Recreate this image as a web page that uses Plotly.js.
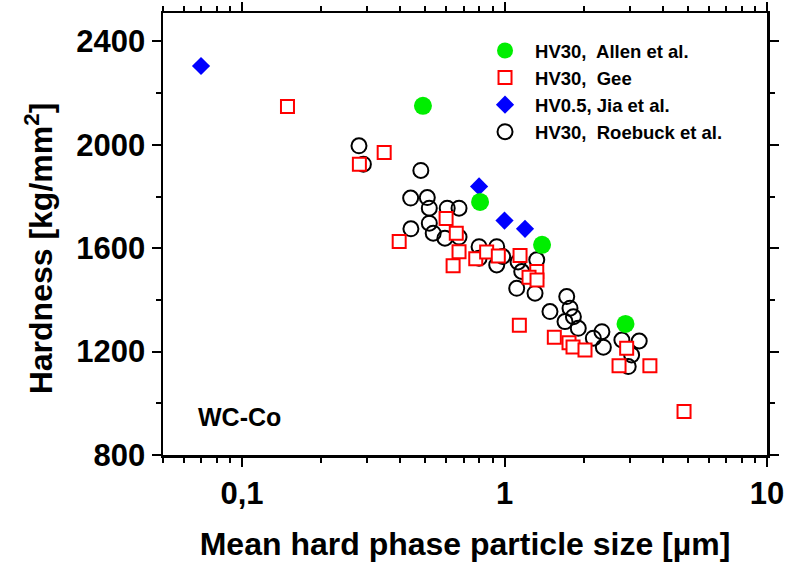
<!DOCTYPE html>
<html>
<head>
<meta charset="utf-8">
<script src="https://cdn.plot.ly/plotly-3.0.1.min.js"></script>
<style>html,body{margin:0;padding:0;background:#fff}#chart{width:788px;height:564px}</style>
</head>
<body>
<div id="chart"></div>
<script>
// Allen et al. (HV30)
const allenX = [0.489, 0.807, 1.39, 2.89];
const allenY = [2151, 1779, 1613, 1307];
// Gee (HV30)
const geeX = [0.149, 0.280, 0.348, 0.397, 0.599, 0.655, 0.671, 0.637, 0.777, 0.855, 0.947, 1.146, 1.327, 1.24, 1.33, 1.139, 1.548, 1.761, 1.824, 2.026, 2.731, 2.92, 3.58, 4.83];
const geeY = [2148, 1925, 1970, 1626, 1715, 1658, 1586, 1532, 1559, 1585, 1570, 1572, 1510, 1488, 1477, 1302, 1256, 1234, 1218, 1206, 1145, 1213, 1145, 968];
// Jia et al. (HV0.5)
const jiaX = [0.0698, 0.80, 1.0, 1.197];
const jiaY = [2305, 1839, 1707, 1675];
// Roebuck et al. (HV30)
const roeX = [0.279, 0.290, 0.480, 0.439, 0.508, 0.517, 0.605, 0.671, 0.517, 0.440, 0.535, 0.593, 0.671, 0.80, 0.934, 0.984, 0.80, 0.934, 1.327, 1.163, 1.113, 1.307, 1.726, 1.776, 1.49, 1.83, 1.70, 1.91, 2.35, 2.18, 2.38, 2.80, 3.26, 3.05, 2.96, 1.126];
const roeY = [1996, 1925, 1901, 1794, 1796, 1755, 1755, 1755, 1697, 1675, 1658, 1639, 1643, 1606, 1606, 1568, 1561, 1535, 1555, 1510, 1445, 1426, 1413, 1368, 1355, 1335, 1316, 1290, 1277, 1252, 1217, 1245, 1241, 1187, 1142, 1547];

const names = ["HV30,\u00a0 Allen et al.", "HV30,\u00a0 Gee", "HV0.5, Jia et al.", "HV30,\u00a0 Roebuck et al."];
const xTickVals = [0.1, 1, 10];
const xTickText = ["0,1", "1", "10"];
const xMinorVals = [0.05,0.06,0.07,0.08,0.09,0.2,0.3,0.4,0.5,0.6,0.7,0.8,0.9,2,3,4,5,6,7,8,9];
const yTickVals = [800, 1200, 1600, 2000, 2400];
const yMinorVals = [1000, 1400, 1800, 2200];
const xTitle = "Mean hard phase particle size [µm]";
const yTitle = "Hardness [kg/mm<sup>2</sup>]";

const FONT = "Liberation Sans, Arial, sans-serif";

const traces = [
  {x: roeX, y: roeY, name: names[3], type: "scatter", mode: "markers", legendrank: 4,
   marker: {symbol: "circle-open", size: 15, color: "#000", line: {color: "#000", width: 2}}},
  {x: geeX, y: geeY, name: names[1], type: "scatter", mode: "markers", legendrank: 2,
   marker: {symbol: "square", size: 13, color: "#fff", line: {color: "#ff0000", width: 2}}},
  {x: jiaX, y: jiaY, name: names[2], type: "scatter", mode: "markers", legendrank: 3,
   marker: {symbol: "diamond", size: 14, color: "#0000ff", line: {width: 0}}},
  {x: allenX, y: allenY, name: names[0], type: "scatter", mode: "markers", legendrank: 1,
   marker: {symbol: "circle", size: 18, color: "#00ee00", line: {width: 0}}}
];

const layout = {
  width: 788, height: 564,
  margin: {l: 163, r: 21, t: 13, b: 109, pad: 0},
  paper_bgcolor: "#fff", plot_bgcolor: "#fff",
  font: {family: FONT, color: "#000", weight: "bold"},
  showlegend: true,
  legend: {x: 0.5166, y: 0.957, xanchor: "left", yanchor: "top", bgcolor: "rgba(0,0,0,0)",
           font: {family: FONT, size: 18.5, color: "#000", weight: "bold"}, itemwidth: 50, tracegroupgap: 0},
  xaxis: {
    type: "log", range: [Math.log10(0.05), 1],
    tickmode: "array", tickvals: xTickVals, ticktext: xTickText,
    ticks: "outside", ticklen: 9, tickwidth: 2, tickcolor: "#000",
    minor: {tickmode: "array", tickvals: xMinorVals, ticks: "outside", ticklen: 5, tickwidth: 2, tickcolor: "#000", showgrid: false},
    showline: true, linewidth: 2.5, linecolor: "#000", mirror: "ticks",
    showgrid: false, zeroline: false,
    tickfont: {family: FONT, size: 31, color: "#000", weight: "bold"},
    title: {text: xTitle, font: {family: FONT, size: 32, color: "#000", weight: "bold"}, standoff: 23}
  },
  yaxis: {
    range: [800, 2510],
    tickmode: "array", tickvals: yTickVals,
    ticks: "outside", ticklen: 9, tickwidth: 2, tickcolor: "#000",
    minor: {tickmode: "array", tickvals: yMinorVals, ticks: "outside", ticklen: 5, tickwidth: 2, tickcolor: "#000", showgrid: false},
    showline: true, linewidth: 2.5, linecolor: "#000", mirror: "ticks",
    showgrid: false, zeroline: false,
    tickfont: {family: FONT, size: 31, color: "#000", weight: "bold"}
  },
  annotations: [
    {text: "WC-Co", xref: "paper", yref: "paper", x: 0.126, y: 0.085, xanchor: "center", yanchor: "middle",
     showarrow: false, font: {family: FONT, size: 25, color: "#000", weight: "bold"}},
    {text: yTitle, xref: "paper", yref: "paper", x: -0.205, y: 0.468, xanchor: "center", yanchor: "middle",
     textangle: -90, showarrow: false, font: {family: FONT, size: 32, color: "#000", weight: "bold"}}
  ]
};

Plotly.newPlot("chart", traces, layout, {displayModeBar: false, staticPlot: true});
</script>
</body>
</html>
